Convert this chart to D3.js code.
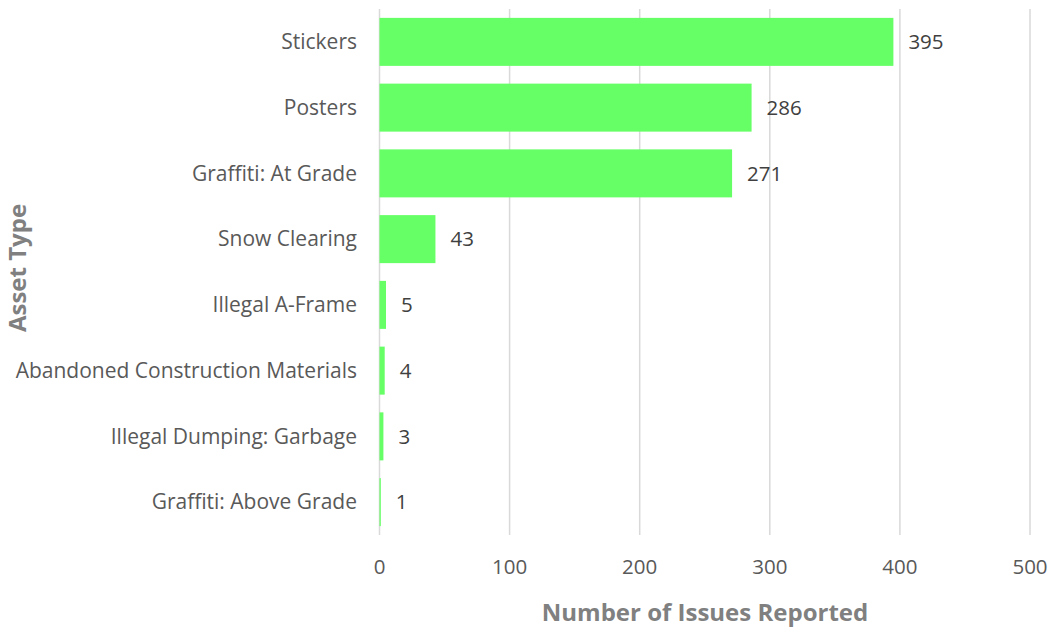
<!DOCTYPE html>
<html><head><meta charset="utf-8">
<script src="https://cdn.jsdelivr.net/npm/d3@7"></script>
<style>body{margin:0;background:#fff}svg{display:block}</style>
</head><body><svg id="c" width="1052" height="630"></svg>
<script>
const categories = ["Stickers","Posters","Graffiti: At Grade","Snow Clearing","Illegal A-Frame","Abandoned Construction Materials","Illegal Dumping: Garbage","Graffiti: Above Grade"];
const values = [395,286,271,43,5,4,3,1];
const xTicks = [0,100,200,300,400,500];
const xTitle = "Number of Issues Reported";
const yTitle = "Asset Type";

const svg = d3.select("#c");
const font = "'Open Sans', 'Liberation Sans', sans-serif";
const x = d3.scaleLinear().domain([0,500]).range([379.5,1030]);
const y = d3.scaleBand().domain(categories).range([9,535]).paddingInner(0.27).paddingOuter(0.135);

// gridlines
svg.append("g").selectAll("line").data(xTicks).join("line")
  .attr("x1",d=>x(d)).attr("x2",d=>x(d)).attr("y1",9).attr("y2",535)
  .attr("stroke","#d9d9d9").attr("stroke-width",1.5);

// bars
svg.append("g").selectAll("rect").data(values).join("rect")
  .attr("x",x(0)).attr("y",(d,i)=>y(categories[i]))
  .attr("width",d=>x(d)-x(0)).attr("height",y.bandwidth())
  .attr("fill","#66ff66");

// value labels
svg.append("g").selectAll("text").data(values).join("text")
  .attr("x",d=>x(d)+15).attr("y",(d,i)=>y(categories[i])+y.bandwidth()/2)
  .attr("dy","0.35em").attr("font-family",font).attr("font-size",20.5)
  .attr("fill","#404040").text(d=>d);

// category labels
svg.append("g").selectAll("text").data(categories).join("text")
  .attr("x",357).attr("y",d=>y(d)+y.bandwidth()/2).attr("dy","0.35em")
  .attr("text-anchor","end").attr("font-family",font).attr("font-size",21)
  .attr("fill","#595959").text(d=>d);

// x tick labels
svg.append("g").selectAll("text").data(xTicks).join("text")
  .attr("x",d=>x(d)).attr("y",567).attr("dy","0.35em").attr("text-anchor","middle")
  .attr("font-family",font).attr("font-size",20.5).attr("fill","#595959").text(d=>d);

// axis titles
svg.append("text").attr("x",705).attr("y",613).attr("dy","0.35em").attr("text-anchor","middle")
  .attr("font-family",font).attr("font-size",24).attr("font-weight","bold").attr("fill","#808080").text(xTitle);
svg.append("text").attr("transform","translate(18,268) rotate(-90)").attr("dy","0.35em").attr("text-anchor","middle")
  .attr("font-family",font).attr("font-size",24).attr("font-weight","bold").attr("fill","#808080").text(yTitle);
</script></body></html>
